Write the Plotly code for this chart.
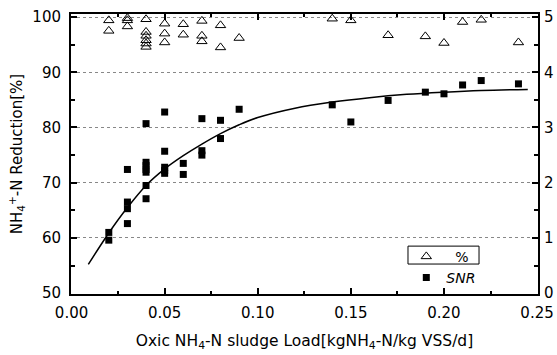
import plotly.graph_objects as go

# Triangles: "%" series
pct_x = [0.02, 0.02,
         0.03, 0.03, 0.03,
         0.04, 0.04, 0.04, 0.04, 0.04, 0.04,
         0.05, 0.05, 0.05,
         0.06, 0.06,
         0.07, 0.07, 0.07,
         0.08, 0.08,
         0.09,
         0.14, 0.15, 0.17, 0.19, 0.20, 0.21, 0.22, 0.24]
pct_y = [99.4, 97.5,
         99.8, 99.4, 98.3,
         99.6, 97.3, 96.6, 95.8, 95.2, 94.6,
         98.8, 97.0, 95.4,
         98.7, 96.8,
         99.3, 96.6, 95.6,
         98.5, 94.5,
         96.2,
         99.7, 99.4, 96.7, 96.5, 95.3, 99.1, 99.5, 95.4]

# Squares: "SNR" series
snr_x = [0.02, 0.02,
         0.03, 0.03, 0.03, 0.03,
         0.04, 0.04, 0.04, 0.04, 0.04, 0.04, 0.04,
         0.05, 0.05, 0.05, 0.05, 0.05,
         0.06, 0.06,
         0.07, 0.07, 0.07,
         0.08, 0.08,
         0.09,
         0.14, 0.15, 0.17, 0.19, 0.20, 0.21, 0.22, 0.24]
snr_y = [61.0, 59.6,
         72.4, 66.5, 65.3, 62.6,
         80.7, 73.7, 73.1, 72.4, 71.9, 69.5, 67.1,
         82.8, 75.7, 72.8, 72.2, 71.7,
         73.5, 71.5,
         81.6, 75.8, 75.0,
         81.3, 78.0,
         83.3,
         84.1, 81.0, 84.9, 86.4, 86.1, 87.7, 88.5, 87.9]

# Fitted curve
fit_x = [0.009, 0.02, 0.03, 0.04, 0.05, 0.06, 0.07, 0.08, 0.09, 0.10,
         0.12, 0.14, 0.16, 0.18, 0.20, 0.22, 0.245]
fit_y = [55.2, 60.9, 65.5, 69.5, 72.5, 74.9, 77.0, 78.9, 80.5, 81.8,
         83.5, 84.6, 85.4, 86.0, 86.4, 86.7, 86.9]

y_ticks = [50, 60, 70, 80, 90, 100]
y2_ticks = [0, 1, 2, 3, 4, 5]
x_ticks = [0.00, 0.05, 0.10, 0.15, 0.20, 0.25]

FONT = "DejaVu Sans"
FS = 15

fig = go.Figure()
fig.add_trace(go.Scatter(x=fit_x, y=fit_y, mode="lines", line=dict(color="black", width=1.5, shape="spline"),
                         showlegend=False, hoverinfo="skip"))
fig.add_trace(go.Scatter(x=pct_x, y=pct_y, mode="markers", name="\u00a0\u00a0%",
                         marker=dict(symbol="triangle-up-open", size=9, color="black", line=dict(width=1))))
fig.add_trace(go.Scatter(x=snr_x, y=snr_y, mode="markers", name="<i>SNR</i>",
                         marker=dict(symbol="square", size=7, color="black", line=dict(width=0))))
fig.add_trace(go.Scatter(x=[], y=[], yaxis="y2", showlegend=False))

ylo, yhi = 49.85, 100.55
fig.update_layout(
    width=557, height=355,
    margin=dict(l=71, r=19, t=14, b=61),
    paper_bgcolor="white", plot_bgcolor="white",
    font=dict(family=FONT, size=FS, color="black"),
    xaxis=dict(range=[-0.0003, 0.2505], tickvals=x_ticks, tickformat=".2f", automargin=False,
               showline=True, linecolor="black", linewidth=2, mirror="ticks",
               ticks="inside", ticklen=6, tickwidth=1.5, tickcolor="black",
               minor=dict(ticks="inside", ticklen=3, dtick=0.025, tickcolor="black", showgrid=False),
               showgrid=False, zeroline=False, ticklabelstandoff=4,
               title=dict(text="Oxic NH<sub>4</sub>-N sludge Load[kgNH<sub>4</sub>-N/kg VSS/d]",
                          font=dict(size=15.5), standoff=14)),
    yaxis=dict(range=[ylo, yhi], tickvals=y_ticks, automargin=False,
               showline=True, linecolor="black", linewidth=2, mirror=True,
               ticks="inside", ticklen=6, tickwidth=1.5, tickcolor="black",
               minor=dict(ticks="inside", ticklen=4, dtick=5, tickcolor="black", showgrid=False),
               showgrid=True, gridcolor="#888888", griddash="dot", gridwidth=1, zeroline=False,
               ticklabelstandoff=5,
               title=dict(text="NH<sub>4</sub><sup>+</sup>-N Reduction[%]", font=dict(size=FS), standoff=6)),
    yaxis2=dict(range=[(ylo - 50) / 10, (yhi - 50) / 10], tickvals=y2_ticks, overlaying="y", side="right",
                automargin=False,
                showline=False, ticks="inside", ticklen=6, tickwidth=1.5, tickcolor="black",
                minor=dict(ticks="inside", ticklen=4, dtick=0.5, tickcolor="black"),
                showgrid=False, zeroline=False, ticklabelstandoff=5),
    legend=dict(x=0.718, y=0.19, xanchor="left", yanchor="top", bgcolor="rgba(0,0,0,0)",
                font=dict(size=14), tracegroupgap=0),
    showlegend=True,
)
fig.add_shape(type="rect", xref="paper", yref="paper", x0=0.7216, x1=0.8737, y0=0.107, y1=0.171,
              line=dict(color="black", width=1))

fig.write_html("out.html")
